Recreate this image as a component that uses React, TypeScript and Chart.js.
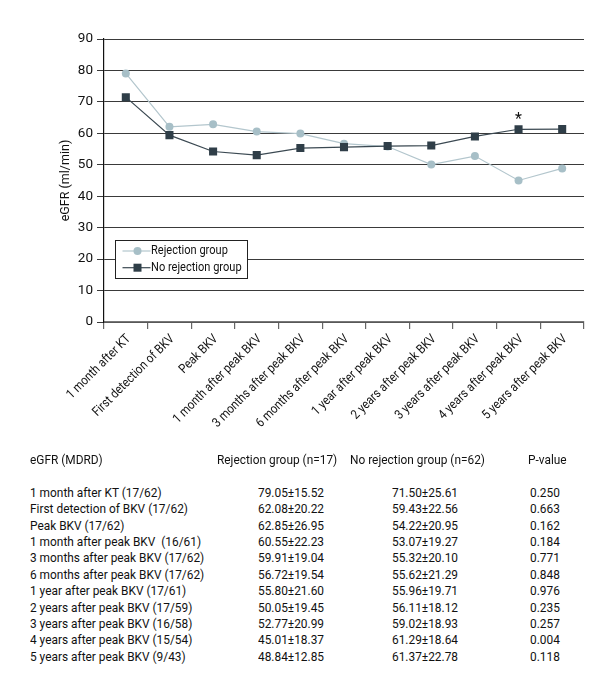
import React, { useEffect, useRef } from "react";
import { Chart, registerables } from "chart.js";

Chart.register(...registerables);

const categories = [
  "1 month after KT",
  "First detection of BKV",
  "Peak BKV",
  "1 month after peak BKV",
  "3 months after peak BKV",
  "6 months after peak BKV",
  "1 year after peak BKV",
  "2 years after peak BKV",
  "3 years after peak BKV",
  "4 years after peak BKV",
  "5 years after peak BKV",
];
const rejectionMeans = [79.05, 62.08, 62.85, 60.55, 59.91, 56.72, 55.8, 50.05, 52.77, 45.01, 48.84];
const noRejectionMeans = [71.5, 59.43, 54.22, 53.07, 55.32, 55.62, 55.96, 56.11, 59.02, 61.29, 61.37];
const significantIndex = 9;
const yTitle = "eGFR (ml/min)";
const seriesLabels = ["Rejection group", "No rejection group"];

const tableHeader = ["eGFR (MDRD)", "Rejection group (n=17)", "No rejection group (n=62)", "P-value"];
const rowLabels = [
  "1 month after KT (17/62)",
  "First detection of BKV (17/62)",
  "Peak BKV (17/62)",
  "1 month after peak BKV  (16/61)",
  "3 months after peak BKV (17/62)",
  "6 months after peak BKV (17/62)",
  "1 year after peak BKV (17/61)",
  "2 years after peak BKV (17/59)",
  "3 years after peak BKV (16/58)",
  "4 years after peak BKV (15/54)",
  "5 years after peak BKV (9/43)",
];
const rejectionCells = [
  "79.05±15.52", "62.08±20.22", "62.85±26.95", "60.55±22.23", "59.91±19.04", "56.72±19.54",
  "55.80±21.60", "50.05±19.45", "52.77±20.99", "45.01±18.37", "48.84±12.85",
];
const noRejectionCells = [
  "71.50±25.61", "59.43±22.56", "54.22±20.95", "53.07±19.27", "55.32±20.10", "55.62±21.29",
  "55.96±19.71", "56.11±18.12", "59.02±18.93", "61.29±18.64", "61.37±22.78",
];
const pValues = ["0.250", "0.663", "0.162", "0.184", "0.771", "0.848", "0.976", "0.235", "0.257", "0.004", "0.118"];

const FONT = 'Roboto, "Liberation Sans", sans-serif';
const TEXT = "#111";
const LIGHT = "#a7bfc7";
const LIGHT_LINE = "#b3c6cd";
const DARK = "#2f3e48";
const DARK_LINE = "#3b4952";
const SQUEEZE = 0.87;

const CW = 615;
const CH = 470;

const overlayPlugin = {
  id: "overlay",
  afterDraw(chart: any) {
    const ctx = chart.ctx;
    const area = chart.chartArea;
    const xScale = chart.scales.x;

    // rotated, condensed category labels
    ctx.save();
    ctx.fillStyle = TEXT;
    ctx.font = `13px ${FONT}`;
    ctx.textAlign = "right";
    ctx.textBaseline = "middle";
    categories.forEach((lab, i) => {
      const x = xScale.getPixelForTick(i) + 3;
      const y = xScale.top + 15;
      const w = ctx.measureText(lab).width;
      ctx.save();
      ctx.translate(x, y);
      ctx.rotate(-Math.PI / 4);
      ctx.fillText(lab, 0, 0, w * SQUEEZE);
      ctx.restore();
    });
    ctx.restore();

    // asterisk above the significant point
    const meta = chart.getDatasetMeta(1);
    const pt = meta.data[significantIndex];
    if (pt) {
      ctx.save();
      ctx.fillStyle = TEXT;
      ctx.font = `16px ${FONT}`;
      ctx.textAlign = "center";
      ctx.textBaseline = "middle";
      ctx.fillText("*", pt.x, pt.y - 9);
      ctx.restore();
    }

    // legend box inside plot
    const bx = Math.round(area.left + 11) + 0.5;
    const by = Math.round(area.top + 201) + 0.5;
    const bw = 132;
    const bh = 38;
    ctx.save();
    ctx.fillStyle = "#fff";
    ctx.fillRect(bx, by, bw, bh);
    ctx.strokeStyle = "#222";
    ctx.lineWidth = 1;
    ctx.strokeRect(bx, by, bw, bh);
    const rows = [
      { label: seriesLabels[0], color: LIGHT, line: LIGHT_LINE, style: "circle" },
      { label: seriesLabels[1], color: DARK, line: DARK_LINE, style: "rect" },
    ];
    rows.forEach((row, i) => {
      const y = by + 10.5 + i * 16.7;
      ctx.strokeStyle = row.line;
      ctx.lineWidth = 1.2;
      ctx.beginPath();
      ctx.moveTo(bx + 7, y);
      ctx.lineTo(bx + 35, y);
      ctx.stroke();
      ctx.fillStyle = row.color;
      if (row.style === "circle") {
        ctx.beginPath();
        ctx.arc(bx + 22, y, 4, 0, Math.PI * 2);
        ctx.fill();
      } else {
        ctx.fillRect(bx + 22 - 4, y - 4, 8, 8);
      }
      ctx.fillStyle = TEXT;
      ctx.font = `13px ${FONT}`;
      ctx.textAlign = "left";
      ctx.textBaseline = "middle";
      const w = ctx.measureText(row.label).width;
      ctx.fillText(row.label, bx + 35.5, y, w * 0.85);
    });
    ctx.restore();
  },
};

function ChartBox() {
  const ref = useRef<HTMLCanvasElement | null>(null);
  useEffect(() => {
    if (!ref.current) return;
    const chart = new Chart(ref.current, {
      type: "line",
      data: {
        labels: categories,
        datasets: [
          {
            label: seriesLabels[0],
            data: rejectionMeans,
            borderColor: LIGHT_LINE,
            backgroundColor: LIGHT,
            borderWidth: 1.2,
            pointStyle: "circle",
            pointRadius: 4,
            pointBorderWidth: 0,
            pointBackgroundColor: LIGHT,
            tension: 0,
            order: 2,
          },
          {
            label: seriesLabels[1],
            data: noRejectionMeans,
            borderColor: DARK_LINE,
            backgroundColor: DARK,
            borderWidth: 1.2,
            pointStyle: "rect",
            pointRadius: 5.7,
            pointBorderWidth: 0,
            pointBackgroundColor: DARK,
            tension: 0,
            order: 1,
          },
        ],
      },
      options: {
        responsive: false,
        animation: false,
        layout: { padding: { top: 39, right: 31, left: 53, bottom: 0 } },
        plugins: {
          legend: { display: false },
          tooltip: { enabled: false },
        },
        scales: {
          x: {
            offset: true,
            grid: {
              display: true,
              offset: true,
              drawOnChartArea: false,
              drawTicks: true,
              tickLength: 7,
              color: "#666",
              lineWidth: 1.2,
            },
            border: { display: true, color: "#777", width: 1.5 },
            ticks: { display: false },
            afterFit(scale: any) {
              scale.height = CH - 322;
            },
          },
          y: {
            min: 0,
            max: 90,
            ticks: {
              stepSize: 10,
              padding: 4,
              color: TEXT,
              font: { family: FONT, size: 13.5 },
            },
            grid: {
              color: "#3a3a3a",
              lineWidth: 1,
              tickLength: 7,
            },
            border: { display: true, color: "#111", width: 1.2 },
            title: {
              display: true,
              text: yTitle,
              color: TEXT,
              font: { family: FONT, size: 12.5 },
              padding: { top: 5, bottom: 4 },
            },
            afterFit(scale: any) {
              scale.width = 51;
            },
          },
        },
      },
      plugins: [overlayPlugin],
    });
    return () => chart.destroy();
  }, []);
  return <canvas ref={ref} width={CW} height={CH} style={{ display: "block", width: CW, height: CH }} />;
}

const cell = (left: number): React.CSSProperties => ({
  position: "absolute",
  left,
  top: 0,
  whiteSpace: "pre",
  display: "inline-block",
  transform: `scaleX(${SQUEEZE + 0.01})`,
  transformOrigin: "left center",
});

export default function App() {
  const rowH = 16.4;
  return (
    <div style={{ position: "absolute", left: 0, top: 0, width: 615, height: 698, background: "#fff", overflow: "hidden" }}>
      <ChartBox />
      <div style={{ position: "absolute", left: 0, top: 0, width: 615, fontFamily: FONT, fontSize: 13.5, color: TEXT, lineHeight: `${rowH}px` }}>
        <div style={{ position: "absolute", top: 459 - rowH / 2, left: 0, width: 615, height: rowH }}>
          <span style={cell(30)}>{tableHeader[0]}</span>
          <span style={cell(217)}>{tableHeader[1]}</span>
          <span style={cell(350)}>{tableHeader[2]}</span>
          <span style={cell(528)}>{tableHeader[3]}</span>
        </div>
        {rowLabels.map((lab, i) => (
          <div key={i} style={{ position: "absolute", top: 492 - rowH / 2 + i * rowH, left: 0, width: 615, height: rowH }}>
            <span style={cell(30)}>{lab}</span>
            <span style={cell(258)}>{rejectionCells[i]}</span>
            <span style={cell(392)}>{noRejectionCells[i]}</span>
            <span style={cell(530)}>{pValues[i]}</span>
          </div>
        ))}
      </div>
    </div>
  );
}
